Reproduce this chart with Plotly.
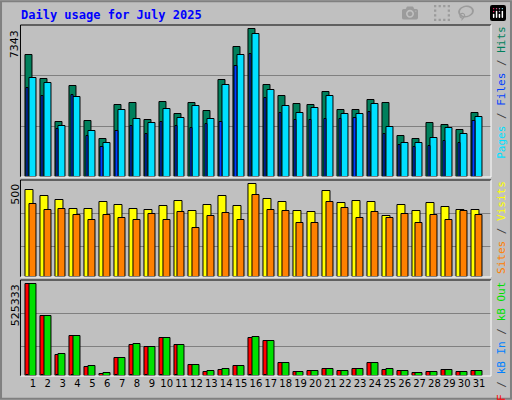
"""Webalizer style daily usage chart for July 2025"""

import plotly.graph_objects as go

days = list(range(1, 32))
day_labels = [str(d) for d in days]
weekend_days = [5, 6, 12, 13, 19, 20, 26, 27]

hits = [6063, 4851, 2708, 4502, 2757, 1910, 3555, 3654, 2807, 3704, 3106, 3654, 3256, 4801, 6445, 7343,
        4551, 4003, 3604, 3555, 4202, 3305, 3305, 3804, 3654, 2010, 1910, 2658, 2558, 2309, 3156]
files = [4900, 4651, 2508, 3953, 2259, 1711, 3305, 2857, 2658, 3355, 2907, 3505, 2857, 4551, 6046, 7092,
         4302, 3505, 3156, 3405, 4003, 3106, 3106, 3604, 2458, 1711, 1711, 1960, 2408, 2109, 2957]
pages = [4402, 4003, 2359, 4053, 2010, 1512, 2259, 2508, 2109, 2708, 2508, 2408, 2608, 2708, 5498, 6096,
         3903, 3156, 2807, 2807, 2857, 2857, 2907, 3206, 2109, 1611, 1512, 1561, 1810, 1711, 2757]
visits = [467, 435, 413, 365, 365, 403, 386, 365, 359, 381, 408, 354, 386, 435, 381, 500,
          419, 403, 354, 348, 462, 397, 408, 403, 327, 386, 354, 397, 375, 359, 359]
sites = [392, 359, 365, 332, 305, 332, 316, 305, 338, 310, 348, 262, 327, 343, 310, 440,
         359, 354, 289, 289, 403, 370, 316, 348, 316, 338, 294, 332, 305, 354, 332]
kb_out = [525333, 341000, 128000, 232000, 59000, 19000, 105000, 186000, 169000, 220000, 180000, 65000,
          31000, 42000, 59000, 226000, 203000, 77000, 25000, 31000, 42000, 31000, 42000, 77000, 42000,
          31000, 19000, 25000, 36000, 25000, 31000]
kb_f = [525333, 341000, 123000, 232000, 52000, 13000, 105000, 180000, 169000, 215000, 180000, 65000,
        25000, 36000, 59000, 220000, 203000, 77000, 25000, 31000, 42000, 31000, 42000, 77000, 36000,
        31000, 19000, 25000, 36000, 25000, 31000]
kb_in = [6000, 5000, 3000, 4000, 2000, 1000, 3000, 3000, 3000, 3000, 3000, 2000, 1000, 2000, 2000, 3000,
         3000, 2000, 1000, 1000, 2000, 1000, 2000, 2000, 2000, 1000, 1000, 1000, 1000, 1000, 1000]

BG = "#C0C0C0"
GRID = "#808080"
MONO = "DejaVu Sans Mono"

fig = go.Figure()


def add_bar(vals, color, offset, width, yaxis):
    fig.add_trace(go.Bar(x=days, y=vals, offset=offset, width=width, marker_color=color,
                         marker_line=dict(color="black", width=1), yaxis=yaxis, xaxis="x",
                         hoverinfo="y", showlegend=False))


# top panel: hits / files / pages
add_bar(hits, "#00805C", -0.51, 0.47, "y")
add_bar(files, "#00E0FF", -0.25, 0.47, "y")
add_bar(pages, "#0040FF", -0.42, 0.15, "y")
# middle panel: visits / sites
add_bar(visits, "#FFFF00", -0.51, 0.54, "y2")
add_bar(sites, "#FF8000", -0.25, 0.47, "y2")
# bottom panel: kB F / kB In / kB Out
add_bar(kb_f, "#FF0000", -0.51, 0.54, "y3")
add_bar(kb_out, "#00E000", -0.25, 0.47, "y3")
add_bar(kb_in, "#0080FF", -0.42, 0.12, "y3")

top_max = max(hits) * 152 / 148
mid_max = max(visits) * 96.7 / 92.4
bot_max = max(kb_out) * 95.7 / 91.4


def yax(domain, rng, grid):
    return dict(domain=domain, range=[0, rng], tickvals=grid, showticklabels=False, ticks="",
                gridcolor=GRID, gridwidth=1, zeroline=False, showline=False, fixedrange=True)


fig.update_layout(
    width=512, height=400, margin=dict(l=0, r=0, t=0, b=0),
    paper_bgcolor=BG, plot_bgcolor=BG, barmode="overlay", bargap=0,
    xaxis=dict(domain=[0.04, 0.959], range=[0.17, 31.8], tickvals=days, ticktext=[
        f'<span style="color:#00805C">{d}</span>' if d in weekend_days else d for d in day_labels],
        tickfont=dict(family="DejaVu Sans", size=10, color="black"), ticks="", showgrid=False,
        tickangle=0, anchor="y3", fixedrange=True),
    yaxis=yax([0.5575, 0.9375], top_max, [top_max / 3, top_max * 2 / 3]),
    yaxis2=yax([0.3075, 0.55], mid_max, [162, 343]),
    yaxis3=yax([0.06, 0.30], bot_max, [170700, 358600]),
    font=dict(family="DejaVu Sans", size=11, color="black"),
)

# panel frames: dark top/left, white bottom/right
for y0, y1 in [(0.5575, 0.9375), (0.3075, 0.55), (0.06, 0.30)]:
    fig.add_shape(type="line", xref="paper", yref="paper", x0=0.04, x1=0.959, y0=y1, y1=y1,
                  line=dict(color="black", width=1))
    fig.add_shape(type="line", xref="paper", yref="paper", x0=0.04, x1=0.04, y0=y0, y1=y1,
                  line=dict(color="black", width=1))
    fig.add_shape(type="line", xref="paper", yref="paper", x0=0.04, x1=0.959, y0=y0, y1=y0,
                  line=dict(color="white", width=1))
    fig.add_shape(type="line", xref="paper", yref="paper", x0=0.959, x1=0.959, y0=y0, y1=y1,
                  line=dict(color="white", width=1))
# outer border
fig.add_shape(type="rect", xref="paper", yref="paper", x0=0.002, x1=0.998, y0=0.003, y1=0.997,
              line=dict(color="#808080", width=2))

fig.add_annotation(text="<b>Daily usage for July 2025</b>", xref="paper", yref="paper", x=0.037, y=0.963,
                   xanchor="left", yanchor="middle", showarrow=False,
                   font=dict(family=MONO, size=12, color="#0000FF"))

for label, y in [(f"{max(hits)}", 0.93), (f"{max(visits)}", 0.545), (f"{max(kb_out)}", 0.295)]:
    fig.add_annotation(text=label, xref="paper", yref="paper", x=0.03, y=y, textangle=-90,
                       xanchor="center", yanchor="top", showarrow=False,
                       font=dict(family="DejaVu Sans", size=11, color="black"))

legends = [
    ('<span style="color:#00E0FF">Pages</span><span style="color:#404040"> / </span>'
     '<span style="color:#0040FF">Files</span><span style="color:#404040"> / </span>'
     '<span style="color:#00805C">Hits</span>', 0.94),
    ('<span style="color:#FF8000">Sites</span><span style="color:#404040"> / </span>'
     '<span style="color:#FFFF00">Visits</span>', 0.552),
    ('<span style="color:#FF0000">kB F</span><span style="color:#404040"> / </span>'
     '<span style="color:#0080FF">kB In</span><span style="color:#404040"> / </span>'
     '<span style="color:#00E000">kB Out</span>', 0.30),
]
for text, y in legends:
    fig.add_annotation(text=text, xref="paper", yref="paper", x=0.979, y=y, textangle=-90,
                       xanchor="center", yanchor="top", showarrow=False,
                       font=dict(family=MONO, size=11))

fig.write_html("out.html",
               post_script="document.body.style.margin='0';document.body.style.overflow='hidden';")
